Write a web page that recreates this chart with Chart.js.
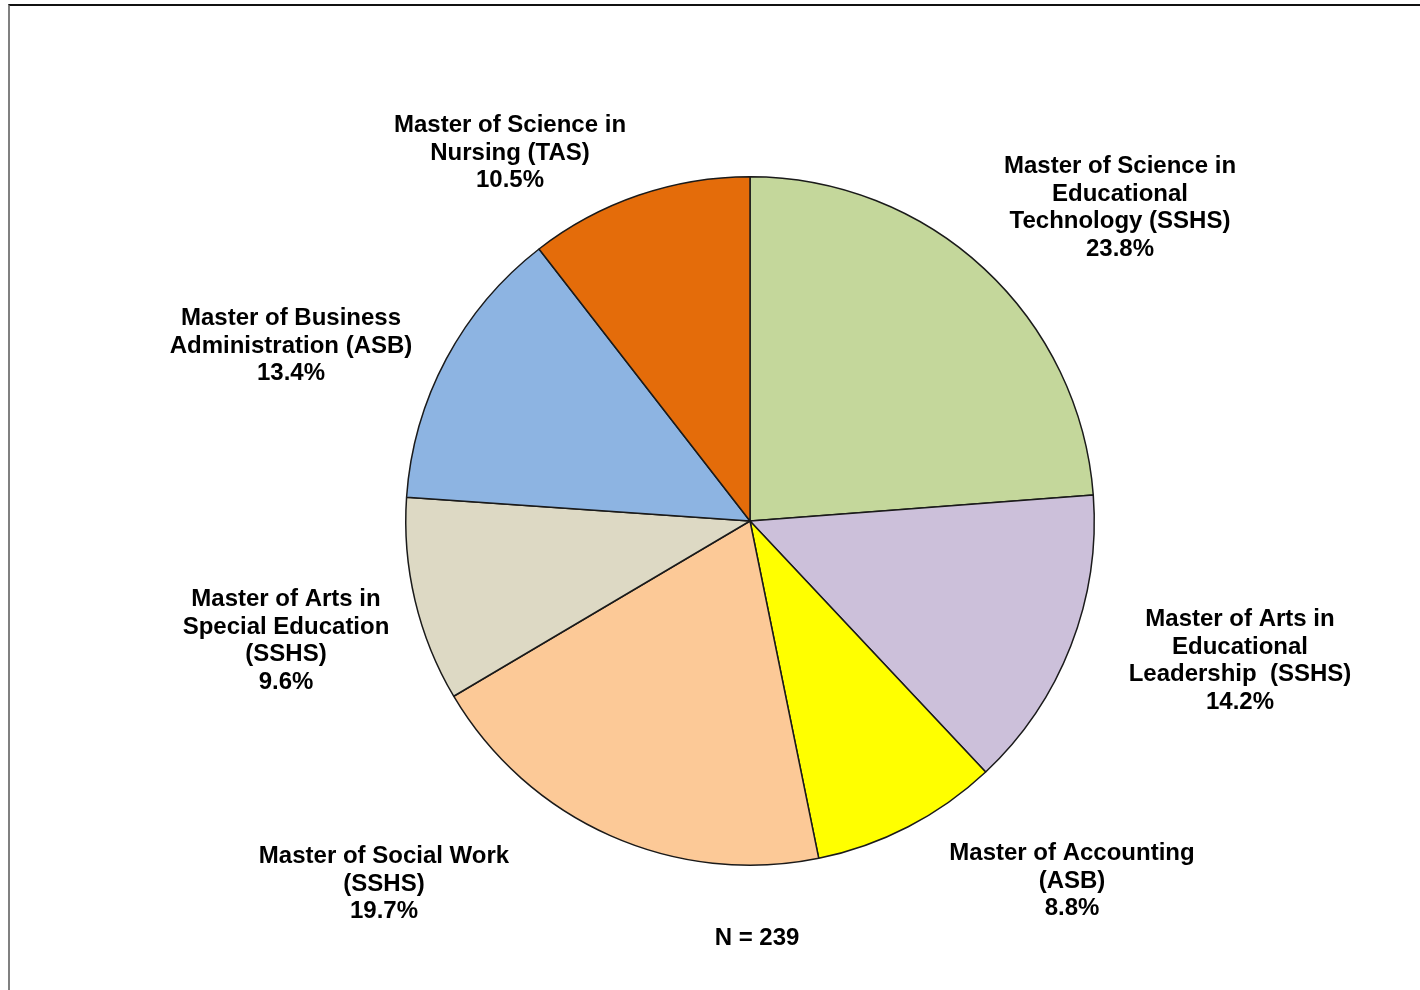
<!DOCTYPE html>
<html>
<head>
<meta charset="utf-8">
<script src="https://cdn.jsdelivr.net/npm/chart.js@4"></script>
<style>
  html, body { margin: 0; padding: 0; background: #fff; }
  #frame {
    position: absolute; left: 8px; top: 4px; width: 1412px; height: 986px;
    border-top: 2px solid #111; border-left: 2px solid #808080; box-sizing: border-box;
  }
  #wrap { position: absolute; left: 0; top: 0; width: 1420px; height: 990px; }
</style>
</head>
<body>
<div id="frame"></div>
<div id="wrap"><canvas id="pieChart" width="1420" height="990"></canvas></div>
<script>
// Program names (label lines) and share of respondents, clockwise from 12 o'clock
const programs = [
    ['Master of Science in', 'Educational', 'Technology (SSHS)'],
    ['Master of Arts in', 'Educational', 'Leadership  (SSHS)'],
    ['Master of Accounting', '(ASB)'],
    ['Master of Social Work', '(SSHS)'],
    ['Master of Arts in', 'Special Education', '(SSHS)'],
    ['Master of Business', 'Administration (ASB)'],
    ['Master of Science in', 'Nursing (TAS)']
];
const shares = [23.8, 14.2, 8.8, 19.7, 9.6, 13.4, 10.5];
const totalN = 239;

const sliceColors = ['#C4D79B', '#CCC0DA', '#FFFF00', '#FCC997', '#DDD9C4', '#8DB4E2', '#E46C0A'];

// where each label block sits, relative to the pie centre
const labelOffsets = [[370, -313], [490, 140], [322, 360], [-366, 363], [-464, 120], [-459, -175], [-240, -368]];

const pieLabels = {
    id: 'pieLabels',
    afterDraw(chart) {
        const ctx = chart.ctx;
        const arcs = chart.getDatasetMeta(0).data;
        const cx = arcs[0].x, cy = arcs[0].y;
        const lineH = 27.7;
        ctx.save();
        ctx.font = 'bold 24px "Liberation Sans", Arial, sans-serif';
        ctx.fillStyle = '#000';
        ctx.textAlign = 'center';
        ctx.textBaseline = 'middle';
        programs.forEach((lines, i) => {
            const all = lines.concat([shares[i].toFixed(1) + '%']);
            const [ox, oy] = labelOffsets[i];
            const y0 = cy + oy - (all.length - 1) * lineH / 2;
            all.forEach((t, j) => ctx.fillText(t, cx + ox, y0 + j * lineH));
        });
        ctx.fillText('N = ' + totalN, cx + 7, cy + 417);
        ctx.restore();
    }
};

const ctxPie = document.getElementById('pieChart').getContext('2d');
const pieChart = new Chart(ctxPie, {
    type: 'pie',
    data: {
        labels: programs.map(p => p.join(' ')),
        datasets: [{ data: shares, backgroundColor: sliceColors, borderColor: '#1a1a1a', borderWidth: 1.5 }]
    },
    options: {
        responsive: false,
        animation: false,
        layout: { padding: { left: 405, right: 325, top: 176, bottom: 124 } },
        plugins: { legend: { display: false }, tooltip: { enabled: false } }
    },
    plugins: [pieLabels]
});
</script>
</body>
</html>
